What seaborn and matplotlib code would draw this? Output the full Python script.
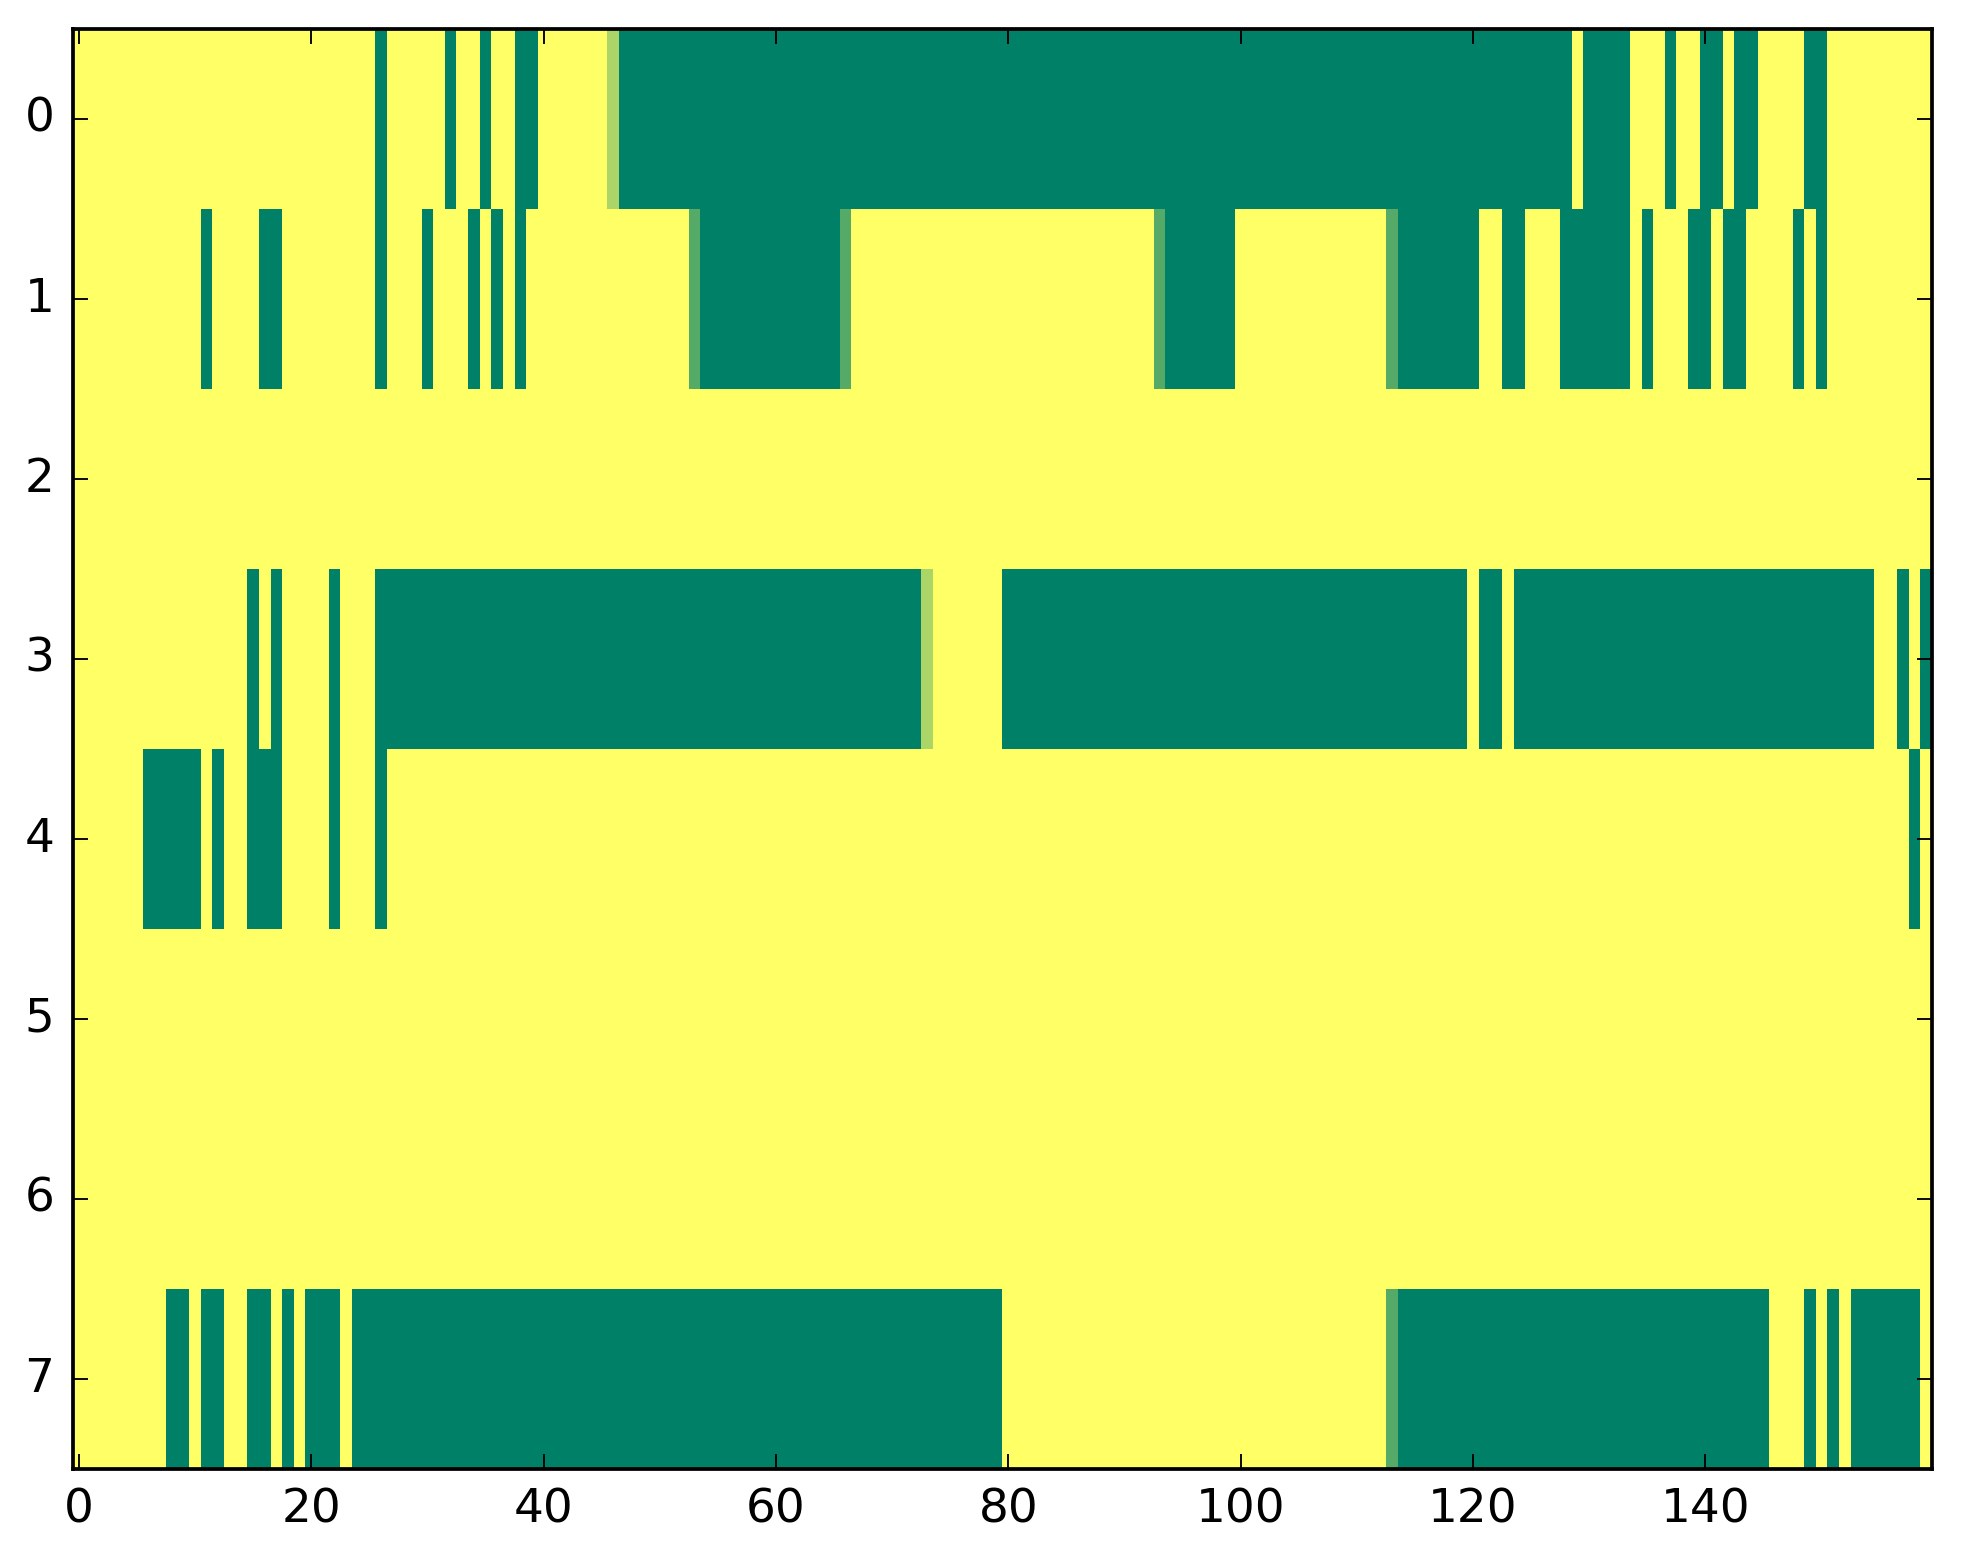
import numpy as np
import pandas as pd
import matplotlib
matplotlib.use("Agg")
import matplotlib.pyplot as plt
import seaborn as sns

# ---- data ----
G = 0.0    # green
Y = 1.0    # yellow
M = 0.33   # medium green
L = 0.67   # light green

n_cols = 160
row_labels = [0, 1, 2, 3, 4, 5, 6, 7]
x_tick_values = [0, 20, 40, 60, 80, 100, 120, 140]

# run-length encoded rows: (value, number of cells)
row0_runs = [(Y, 26), (G, 1), (Y, 5), (G, 1), (Y, 2), (G, 1), (Y, 2), (G, 2), (Y, 6), (L, 1),
             (G, 82), (Y, 1), (G, 4), (Y, 3), (G, 1), (Y, 2), (G, 2), (Y, 1), (G, 2), (Y, 4),
             (G, 2), (Y, 9)]
row1_runs = [(Y, 11), (G, 1), (Y, 4), (G, 2), (Y, 8), (G, 1), (Y, 3), (G, 1), (Y, 3), (G, 1),
             (Y, 1), (G, 1), (Y, 1), (G, 1), (Y, 14), (M, 1), (G, 12), (M, 1), (Y, 26), (M, 1),
             (G, 6), (Y, 13), (M, 1), (G, 7), (Y, 2), (G, 2), (Y, 3), (G, 6), (Y, 1), (G, 1),
             (Y, 3), (G, 2), (Y, 1), (G, 2), (Y, 4), (G, 1), (Y, 1), (G, 1), (Y, 9)]
row2_runs = [(Y, 160)]
row3_runs = [(Y, 15), (G, 1), (Y, 1), (G, 1), (Y, 4), (G, 1), (Y, 3), (G, 47), (L, 1), (Y, 6),
             (G, 40), (Y, 1), (G, 2), (Y, 1), (G, 31), (Y, 2), (G, 1), (Y, 1), (G, 1)]
row4_runs = [(Y, 6), (G, 5), (Y, 1), (G, 1), (Y, 2), (G, 3), (Y, 4), (G, 1), (Y, 3), (G, 1),
             (Y, 131), (G, 1), (Y, 1)]
row5_runs = [(Y, 160)]
row6_runs = [(Y, 160)]
row7_runs = [(Y, 8), (G, 2), (Y, 1), (G, 2), (Y, 2), (G, 2), (Y, 1), (G, 1), (Y, 1), (G, 3),
             (Y, 1), (G, 56), (Y, 33), (M, 1), (G, 32), (Y, 3), (G, 1), (Y, 1), (G, 1), (Y, 1),
             (G, 6), (Y, 1)]

all_runs = [row0_runs, row1_runs, row2_runs, row3_runs,
            row4_runs, row5_runs, row6_runs, row7_runs]


def expand(runs):
    vals = []
    for v, n in runs:
        vals.extend([v] * n)
    return vals


data = pd.DataFrame([expand(r) for r in all_runs], index=row_labels,
                    columns=list(range(n_cols)))

# ---- figure ----
W, H, DPI = 1963, 1564, 270
fig = plt.figure(figsize=(W / DPI, H / DPI), dpi=DPI)
left, right, top, bottom = 73, 1932, 29, 1469
ax = fig.add_axes([left / W, 1 - bottom / H, (right - left) / W, (bottom - top) / H])

sns.heatmap(data, cmap="summer", vmin=0, vmax=1, cbar=False, ax=ax,
            xticklabels=False, yticklabels=False, linewidths=0, rasterized=True)

ax.set_xticks(np.array(x_tick_values) + 0.5)
ax.set_xticklabels([str(v) for v in x_tick_values])
ax.set_yticks(np.array(row_labels) + 0.5)
ax.set_yticklabels([str(v) for v in row_labels], rotation=0, va="center")
ax.set_xlabel("")
ax.set_ylabel("")

ax.tick_params(axis="both", which="major", direction="in", top=True, right=True,
               bottom=True, left=True, length=4, width=0.5, pad=5,
               labelsize=12.5, color="black", labelcolor="black")
for s in ax.spines.values():
    s.set_visible(True)
    s.set_linewidth(1.0)
    s.set_color("black")
    s.set_zorder(5)

fig.savefig("out.png", dpi=DPI, facecolor="white")
